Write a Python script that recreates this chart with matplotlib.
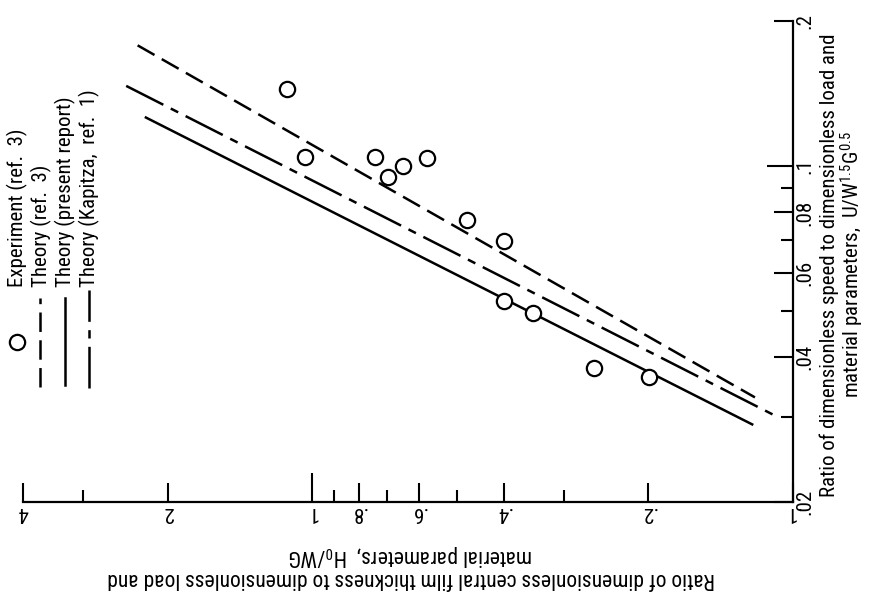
import matplotlib.pyplot as plt
from matplotlib import font_manager
from matplotlib.lines import Line2D
from matplotlib.ticker import FixedLocator, FixedFormatter, NullFormatter

# narrow font if there is one, else Liberation Sans
names = {f.name for f in font_manager.fontManager.ttflist}
font = 'Liberation Sans'
for cand in ['Liberation Sans Narrow', 'DejaVu Sans Condensed', 'Roboto Condensed', 'Open Sans Condensed']:
    if cand in names:
        font = cand
        break
plt.rcParams['font.family'] = [font, 'DejaVu Sans']
plt.rcParams['mathtext.fontset'] = 'custom'
plt.rcParams['mathtext.rm'] = font
plt.rcParams['mathtext.it'] = font
plt.rcParams['lines.scale_dashes'] = False

# experiment (ref. 3): H0/WG vs U/W^1.5 G^0.5
exp_h = [1.13, 1.035, 0.741, 0.697, 0.647, 0.577, 0.477, 0.399, 0.399, 0.347, 0.259, 0.1995]
exp_u = [0.1446, 0.1043, 0.1043, 0.0948, 0.100, 0.1038, 0.0771, 0.0698, 0.0524, 0.0494, 0.0379, 0.0364]

# theory lines (end points)
ref3_h = [2.31, 0.120]
ref3_u = [0.178, 0.0330]
present_h = [2.22, 0.1216]
present_u = [0.126, 0.0290]
kapitza_h = [2.44, 0.108]
kapitza_u = [0.1466, 0.0301]

h_major = [4, 2, 1, .8, .6, .4, .2, .1]
h_labels = ['4', '2', '1', '.8', '.6', '.4', '.2', '.1']
h_minor = [3, .9, .7, .5, .3]
u_major = [.02, .04, .06, .08, .1, .2]
u_labels = ['.02', '.04', '.06', '.08', '.1', '.2']
u_minor = [.03, .05, .07, .09]

W, H = 869, 596
fig = plt.figure(figsize=(W / 100, H / 100), dpi=100)
ax = fig.add_axes([23 / W, 94 / H, 770 / W, 481 / H])

dash_ref3 = (0, (14, 6))
dash_kap = (0, (30, 6, 6, 6))
lw = 1.8

ax.plot(ref3_h, ref3_u, color='black', lw=lw, linestyle=dash_ref3)
ax.plot(present_h, present_u, color='black', lw=lw)
ax.plot(kapitza_h, kapitza_u, color='black', lw=lw, linestyle=dash_kap)
ax.plot(exp_h, exp_u, 'o', ms=11, mfc='white', mec='black', mew=1.6, zorder=3)

ax.set_xscale('log')
ax.set_yscale('log')
ax.set_xlim(4, 0.1)
ax.set_ylim(0.02, 0.2)

ax.xaxis.set_major_locator(FixedLocator(h_major))
ax.xaxis.set_major_formatter(FixedFormatter(h_labels))
ax.xaxis.set_minor_locator(FixedLocator(h_minor))
ax.xaxis.set_minor_formatter(NullFormatter())
ax.yaxis.set_major_locator(FixedLocator(u_major))
ax.yaxis.set_major_formatter(FixedFormatter(u_labels))
ax.yaxis.set_minor_locator(FixedLocator(u_minor))
ax.yaxis.set_minor_formatter(NullFormatter())

ax.yaxis.tick_right()
ax.spines['top'].set_visible(False)
ax.spines['left'].set_visible(False)
ax.spines['bottom'].set_linewidth(1.6)
ax.spines['right'].set_linewidth(1.6)

ax.tick_params(which='major', direction='in', length=13.5, width=1.5, labelsize=15)
ax.tick_params(which='minor', direction='in', length=8.5, width=1.5)
ax.tick_params(axis='x', which='major', labelrotation=180, pad=1)
ax.tick_params(axis='y', which='major', labelrotation=90, pad=2)

# longer ticks at 1 and .1
ax.xaxis.get_major_ticks()[2].tick1line.set_markersize(21)
ax.yaxis.get_major_ticks()[4].tick2line.set_markersize(19)

for lab in ax.get_yticklabels():
    lab.set_va('center')


def fp(x, y):
    return x / W, 1 - y / H


# legend
fig.add_artist(Line2D(*zip(fp(17, 342)), marker='o', ms=11, mfc='white', mec='black', mew=1.6, ls='none'))
fig.add_artist(Line2D(*zip(fp(40, 387), fp(40, 298)), color='black', lw=lw, linestyle=dash_ref3))
fig.add_artist(Line2D(*zip(fp(65, 385), fp(65, 298)), color='black', lw=lw))
fig.add_artist(Line2D(*zip(fp(89, 388), fp(89, 290)), color='black', lw=lw, linestyle=dash_kap))

legend_text = ['Experiment (ref.  3)', 'Theory (ref.  3)', 'Theory (present report)', 'Theory (Kapitza,  ref.  1)']
for x, t in zip([17, 41, 65, 89], legend_text):
    fig.text(*fp(x, 287), t, rotation=90, rotation_mode='anchor', ha='left', va='center', fontsize=15)

fig.text(*fp(411, 566),
         'Ratio of dimensionless central film thickness to dimensionless load and\n'
         'material parameters,  H$_0$/WG',
         rotation=180, ha='center', va='center', multialignment='center', fontsize=15.5, linespacing=1.0)

fig.text(*fp(843, 265),
         'Ratio of dimensionless speed to dimensionless load and\n'
         'material parameters,  U/W$^{1.5}$G$^{0.5}$',
         rotation=90, ha='center', va='center', multialignment='center', fontsize=15, linespacing=1.0)

fig.savefig('out.png', dpi=100)
